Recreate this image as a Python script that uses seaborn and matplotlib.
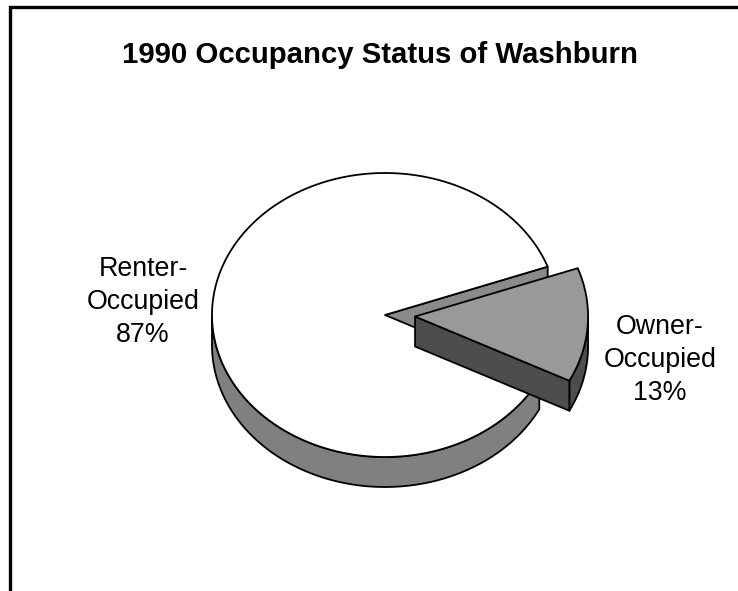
import numpy as np
import matplotlib
matplotlib.use("Agg")
import matplotlib.pyplot as plt
from matplotlib.patches import Polygon
import seaborn as sns

# Occupancy shares, 1990
categories = ["Renter-\nOccupied", "Owner-\nOccupied"]
shares = [87, 13]
explode = [0.0, 0.174]

title = "1990 Occupancy Status of Washburn"

sns.set_theme(style="white")
plt.rcParams["font.family"] = ["Liberation Sans", "DejaVu Sans"]

W, H = 738, 591
fig = plt.figure(figsize=(W / 100, H / 100), dpi=100)
ax = fig.add_axes([0, 0, 1, 1])
ax.set_xlim(0, W)
ax.set_ylim(H, 0)
ax.axis("off")

# 3-D pie geometry (tilted disc in screen units)
cx, cy = 385.0, 315.0
ra, rb = 173.0, 142.0
depth = 30.0
start = 19.9  # angle of the cut between the two slices, degrees

top_cols = ["#ffffff", "#999999"]
side_cols = ["#808080", "#4d4d4d"]
cut_cols = ["#8a8a8a", "#4d4d4d"]
edge = dict(edgecolor="black", linewidth=1.3, joinstyle="round")


def rim(t, ox, oy, dz=0.0):
    t = np.radians(t)
    return np.column_stack([ox + ra * np.cos(t), oy - rb * np.sin(t) + dz])


def slice_faces(a0, a1, frac_explode):
    """Faces of a slice spanning a0 -> a1 (counter-clockwise, degrees)."""
    mid = np.radians((a0 + a1) / 2)
    ox = cx + frac_explode * ra * np.cos(mid)
    oy = cy - frac_explode * rb * np.sin(mid)
    faces = []
    # outer wall: only the front half of the rim (sin < 0) faces the viewer
    if a0 < 0:
        lo, hi = a0, min(a1, 0.0)
    else:
        lo, hi = max(a0, 180.0), min(a1, 360.0)
    if hi > lo:
        t = np.linspace(lo, hi, 200)
        faces.append(("side", np.vstack([rim(t, ox, oy), rim(t[::-1], ox, oy, depth)])))
    # radial cut faces whose outward normal points toward the viewer
    for ang, normal in ((a0, a0 - 90), (a1, a1 + 90)):
        if np.sin(np.radians(normal)) < 0:
            p = rim(np.array([ang]), ox, oy)[0]
            faces.append(("cut", np.array([[ox, oy], p, p + [0, depth], [ox, oy + depth]])))
    t = np.linspace(a0, a1, 400)
    faces.append(("top", np.vstack([[ox, oy], rim(t, ox, oy)])))
    return faces


total = sum(shares)
sweep = [s / total * 360 for s in shares]
spans = [(start, start + sweep[0]), (start - sweep[1], start)]

for i, (a0, a1) in enumerate(spans):
    for kind, poly in slice_faces(a0, a1, explode[i]):
        col = {"side": side_cols[i], "cut": cut_cols[i], "top": top_cols[i]}[kind]
        ax.add_patch(Polygon(poly, closed=True, facecolor=col, zorder=2 + i, **edge))

# slice labels
label_pos = [(143, 302), (660, 360)]
for (x, y), cat, s in zip(label_pos, categories, shares):
    ax.text(x, y, f"{cat}\n{s}%", ha="center", va="center", fontsize=19.3,
            color="black", linespacing=1.33, zorder=10)

ax.text(380, 55, title, ha="center", va="center", fontsize=21.2,
        fontweight="bold", color="black")

# chart-area frame (left and top edges)
ax.plot([9.5, 9.5, W], [H, 7, 7], color="black", linewidth=2.4,
        solid_joinstyle="miter", zorder=20)

fig.savefig("out.png", dpi=100, facecolor="white")
